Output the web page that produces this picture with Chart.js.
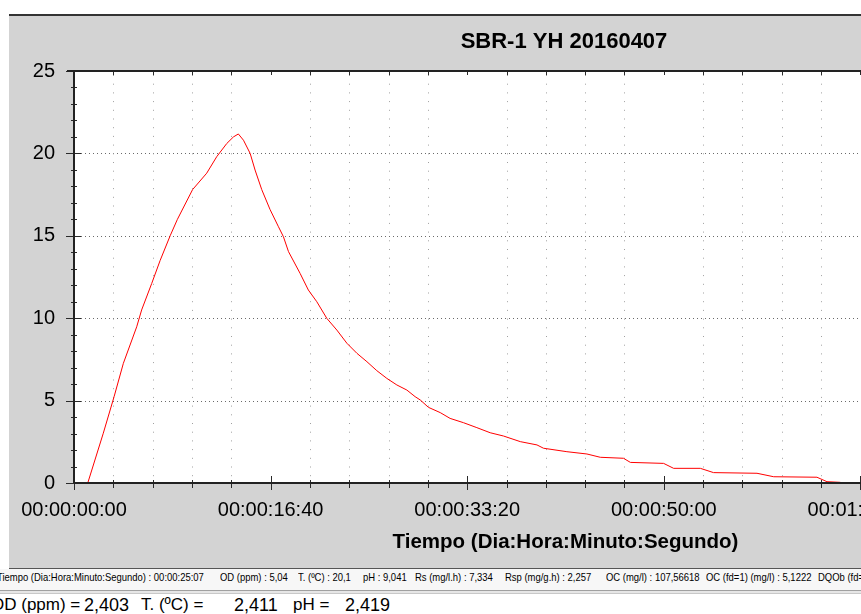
<!DOCTYPE html>
<html>
<head>
<meta charset="utf-8">
<script src="https://cdn.jsdelivr.net/npm/chart.js@4/dist/chart.umd.min.js"></script>
<style>
  html, body { margin:0; padding:0; width:861px; height:614px; overflow:hidden; background:#fff; position:relative;
    font-family:"Liberation Sans", Arial, sans-serif; }
  #panel { position:absolute; left:9px; top:14px; width:1110px; height:555px; background:#d3d3d3;
    border-top:2px solid #333; border-bottom:1px solid #555; box-sizing:border-box; }
  #wrap { position:absolute; left:9px; top:15px; width:1110px; height:553px; }
  #status { position:absolute; left:0; top:569px; width:861px; height:21px; background:#f7f7f7; }
  #sep { position:absolute; left:0; top:590px; width:861px; height:4px; border-top:1px solid #a0a0a0;
    border-bottom:1px solid #c8c8c8; background:#e6e6e6; box-sizing:border-box; }
  .st { position:absolute; top:572px; font-size:11px; line-height:11px; color:#000; white-space:pre;
    transform:scaleX(0.86); transform-origin:0 0; }
  .bg { position:absolute; top:596px; font-size:17px; line-height:18px; color:#000; white-space:pre; }
  .bg.num { font-size:18px; }
</style>
</head>
<body>
<div id="panel"></div>
<div id="wrap"><canvas id="c" width="1110" height="553"></canvas></div>
<div id="status"></div>
<div id="sep"></div>
<div id="texts"></div>
<script>
// ---- data ----
const timeSec = [70,149,204,251,319,344,395,438,489,526,603,675,726,777,811,836,862,896,921,955,997,
  1040,1065,1091,1150,1192,1235,1286,1337,1388,1439,1490,1540,1591,1642,1693,1735,1761,1803,1863,1913,
  1981,2049,2117,2185,2270,2355,2388,2507,2609,2677,2795,2830,2999,3050,3186,3253,3474,3559,3779,3830,3898];
const odValues = [0,3.02,5.24,7.26,9.48,10.5,12.1,13.5,15.0,16.0,17.8,18.8,19.8,20.6,21.0,21.18,20.8,
  20.0,18.99,17.8,16.6,15.55,14.95,14.04,12.72,11.71,11.0,9.99,9.28,8.48,7.87,7.36,6.82,6.35,5.95,5.64,
  5.24,5.04,4.59,4.27,3.92,3.66,3.36,3.05,2.85,2.51,2.31,2.11,1.90,1.76,1.56,1.50,1.25,1.19,0.89,0.89,
  0.63,0.59,0.38,0.35,0.08,0.04];
const xTickValues = [0,1000,2000,3000,4000,5000];
const xTickLabels = ['00:00:00:00','00:00:16:40','00:00:33:20','00:00:50:00','00:01:06:40','00:01:23:20'];
const yTickValues = [0,5,10,15,20,25];
const chartTitle = 'SBR-1 YH 20160407';
const xAxisTitle = 'Tiempo (Dia:Hora:Minuto:Segundo)';
const statusLabels = ['Tiempo (Dia:Hora:Minuto:Segundo) : 00:00:25:07','OD (ppm) : 5,04','T. (ºC) : 20,1',
  'pH : 9,041','Rs (mg/l.h) : 7,334','Rsp (mg/g.h) : 2,257','OC (mg/l) : 107,56618',
  'OC (fd=1) (mg/l) : 5,1222','DQOb (fd=1) (mg/l) : 1,85'];
const bottomLabels = ['OD (ppm) =','2,403','T. (ºC) =','2,411','pH =','2,419'];

// ---- HTML texts (layout only) ----
const statusX = [-3,220,298,363,415,505,606,706,818];
const bottomX = [-9,84,141,234,293,345];
const texts = document.getElementById('texts');
statusLabels.forEach((t,i)=>{ const d=document.createElement('div'); d.className='st'; d.style.left=statusX[i]+'px'; d.textContent=t; texts.appendChild(d); });
bottomLabels.forEach((t,i)=>{ const d=document.createElement('div'); d.className='bg' + (i % 2 ? ' num' : ''); d.style.left=bottomX[i]+'px'; d.textContent=t; texts.appendChild(d); });

const FONT = '"Liberation Sans", Arial, sans-serif';

const frame = {
  id: 'frame',
  beforeDraw(chart) {
    const {ctx, chartArea:a} = chart;
    ctx.save(); ctx.fillStyle = '#fff';
    ctx.fillRect(a.left, a.top, a.right - a.left, a.bottom - a.top);
    ctx.restore();
  },
  beforeDatasetsDraw(chart) {
    const {ctx, chartArea:a, scales:{x, y}} = chart;
    ctx.save(); ctx.lineWidth = 1;
    ctx.strokeStyle = '#6a6a6a'; ctx.setLineDash([1,3]);
    for (let v = 5; v < 25; v += 5) {
      const py = Math.round(y.getPixelForValue(v)) + 0.5;
      ctx.beginPath(); ctx.moveTo(a.left + 3, py); ctx.lineTo(a.right, py); ctx.stroke();
    }
    ctx.strokeStyle = '#a0a0a0'; ctx.setLineDash([1,7.7]);
    for (let t = 200; t < 5000; t += 200) {
      if (t % 1000 === 0) continue;
      const px = Math.round(x.getPixelForValue(t)) + 0.5;
      ctx.beginPath(); ctx.moveTo(px, a.top + 4); ctx.lineTo(px, a.bottom); ctx.stroke();
    }
    ctx.restore();
  },
  afterDatasetsDraw(chart) {
    const {ctx, chartArea:a, scales:{x, y}} = chart;
    ctx.save();
    ctx.strokeStyle = '#2a2a2a'; ctx.lineWidth = 1;
    for (let v = 0; v <= 25; v += 1) {
      const py = Math.round(y.getPixelForValue(v)) + 0.5;
      const major = v % 5 === 0;
      ctx.beginPath(); ctx.moveTo(a.left - (major ? 8 : 3), py); ctx.lineTo(a.left + (major ? 7 : 3), py); ctx.stroke();
    }
    for (let t = 0; t <= 5000; t += 200) {
      const px = Math.round(x.getPixelForValue(t)) + 0.5;
      const major = t % 1000 === 0;
      ctx.beginPath(); ctx.moveTo(px, a.bottom - (major ? 7 : 3)); ctx.lineTo(px, a.bottom + (major ? 7 : 5)); ctx.stroke();
      ctx.beginPath(); ctx.moveTo(px, a.top); ctx.lineTo(px, a.top + 4); ctx.stroke();
    }
    ctx.lineWidth = 2; ctx.strokeStyle = '#222';
    ctx.beginPath();
    ctx.moveTo(a.left - 7, a.top); ctx.lineTo(a.right, a.top);
    ctx.moveTo(a.left, a.top); ctx.lineTo(a.left, a.bottom);
    ctx.moveTo(a.left, a.bottom); ctx.lineTo(a.right, a.bottom);
    ctx.moveTo(a.right, a.top); ctx.lineTo(a.right, a.bottom);
    ctx.stroke();
    ctx.restore();
  }
};

new Chart(document.getElementById('c'), {
  type: 'line',
  data: {
    datasets: [{
      label: 'OD (ppm)',
      data: timeSec.map((t, i) => ({x: t, y: odValues[i]})),
      borderColor: '#ff0000', borderWidth: 1, pointRadius: 0, tension: 0, fill: false
    }]
  },
  options: {
    responsive: false, animation: false,
    layout: { padding: 0 },
    plugins: {
      legend: { display: false }, tooltip: { enabled: false },
      title: { display: true, text: chartTitle, color: '#000',
        font: { family: FONT, size: 22, weight: 'bold' }, padding: { top: 14, bottom: 15.6 } }
    },
    scales: {
      x: {
        type: 'linear', min: 0, max: 5000, position: 'bottom',
        afterFit(s) { s.paddingLeft = 0; s.paddingRight = 62; s.height = 85; },
        afterBuildTicks(s) { s.ticks = xTickValues.map(v => ({value: v})); },
        ticks: { autoSkip: false, maxRotation: 0, minRotation: 0, padding: 15, color: '#000',
          font: { family: FONT, size: 20 },
          callback: (v) => { const i = xTickValues.indexOf(v); return i >= 0 ? xTickLabels[i] : ''; } },
        grid: { display: false, drawTicks: false },
        border: { display: false },
        title: { display: true, text: xAxisTitle, color: '#000',
          font: { family: FONT, size: 20.5, weight: 'bold' }, padding: { top: 7.7, bottom: 13.7 } }
      },
      y: {
        min: 0, max: 25,
        afterFit(s) { s.width = 65; s.paddingTop = 0; s.paddingBottom = 0; },
        afterBuildTicks(s) { s.ticks = yTickValues.map(v => ({value: v})); },
        ticks: { autoSkip: false, padding: 19, color: '#000', font: { family: FONT, size: 20 } },
        grid: { display: false, drawTicks: false },
        border: { display: false }
      }
    }
  },
  plugins: [frame]
});
</script>
</body>
</html>
